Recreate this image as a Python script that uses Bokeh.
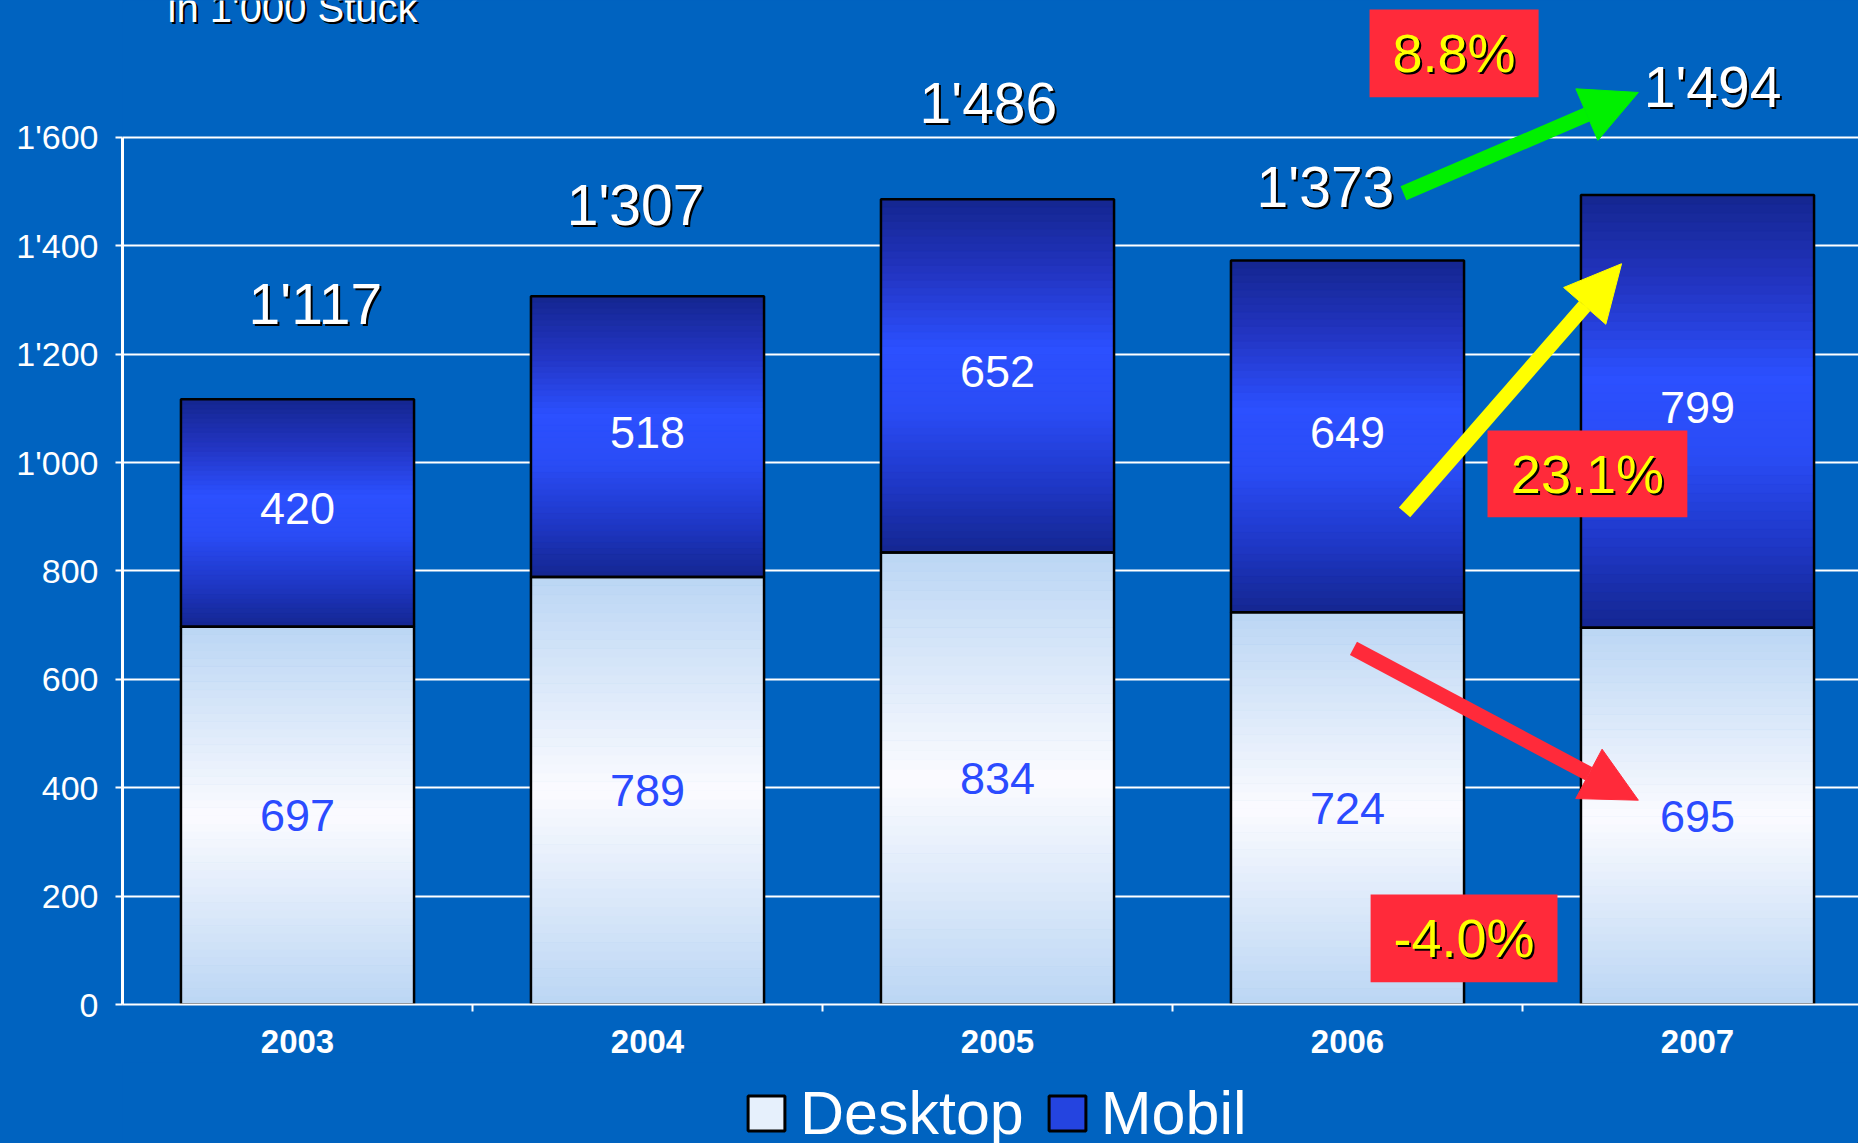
from bokeh.plotting import figure
from bokeh.layouts import column
from bokeh.models import Range1d, FixedTicker, ColumnDataSource, Arrow, NormalHead, Legend, LegendItem
from bokeh.core.properties import value
from bokeh.embed import file_html
from bokeh.resources import INLINE

# ---------------- data ----------------
years = ["2003", "2004", "2005", "2006", "2007"]
desktop = [697, 789, 834, 724, 695]
mobil = [420, 518, 652, 649, 799]
y_ticks = [0, 200, 400, 600, 800, 1000, 1200, 1400, 1600]
series_names = ["Desktop", "Mobil"]
unit_note = "in 1'000 Stuck"

# ---------------- layout / style ----------------
BG = "#0063C0"
FONT = value("Liberation Sans")
BAR_W = 0.666
total_label_dx = [0.051, -0.034, -0.026, -0.063, 0.043]
total_label_dy = [175, 169, 177, 135, 200]

totals = [d + m for d, m in zip(desktop, mobil)]
xc = [i + 0.5 for i in range(len(years))]


def fmt(v):
    return f"{v:,}".replace(",", "'")


def hex2rgb(h):
    return tuple(int(h[i:i + 2], 16) for i in (1, 3, 5))


def grad_color(stops, t):
    for (t0, c0), (t1, c1) in zip(stops[:-1], stops[1:]):
        if t0 <= t <= t1:
            f = (t - t0) / (t1 - t0) if t1 > t0 else 0.0
            a, b = hex2rgb(c0), hex2rgb(c1)
            return "#%02x%02x%02x" % tuple(round(a[k] + (b[k] - a[k]) * f) for k in range(3))
    return stops[-1][1]


def slices(bottoms, tops, stops, n=48):
    xs, bs, ts, cs = [], [], [], []
    for x, b, t in zip(xc, bottoms, tops):
        h = (t - b) / n
        for k in range(n):
            xs.append(x)
            bs.append(b + k * h)
            ts.append(b + (k + 1) * h)
            cs.append(grad_color(stops, 1 - (k + 0.5) / n))
    return ColumnDataSource(dict(x=xs, bottom=bs, top=ts, color=cs))


desk_stops = [(0.0, "#BBD6F4"), (0.5, "#FBFBFF"), (1.0, "#BBD6F4")]
mob_stops = [(0.0, "#142690"), (0.2, "#2234C0"), (0.42, "#2C50FF"), (0.6, "#2A4CF5"),
             (0.8, "#1F38C8"), (1.0, "#142690")]

p = figure(width=1858, height=1062, x_range=Range1d(0, 4.96), y_range=Range1d(0, 1852.7),
           output_backend="svg", toolbar_location=None,
           min_border_left=122, min_border_right=0, min_border_top=0, min_border_bottom=58)
p.background_fill_color = BG
p.border_fill_color = BG
p.outline_line_color = None

# grid
p.xgrid.visible = False
p.ygrid.ticker = FixedTicker(ticks=y_ticks)
p.ygrid.grid_line_color = "white"
p.ygrid.grid_line_width = 2

# y axis
p.yaxis.ticker = FixedTicker(ticks=y_ticks)
p.yaxis.major_label_overrides = {t: fmt(t) for t in y_ticks}
p.yaxis.bounds = (0, 1600)
p.yaxis.axis_line_color = "white"
p.yaxis.axis_line_width = 3
p.yaxis.major_tick_line_color = "white"
p.yaxis.major_tick_line_width = 2
p.yaxis.major_tick_out = 7
p.yaxis.major_tick_in = 0
p.yaxis.minor_tick_line_color = None
p.yaxis.major_label_text_color = "white"
p.yaxis.major_label_text_font = "Liberation Sans"
p.yaxis.major_label_text_font_size = "34px"
p.yaxis.major_label_standoff = 17

# x axis
p.xaxis.ticker = FixedTicker(ticks=xc, minor_ticks=[1, 2, 3, 4])
p.xaxis.major_label_overrides = {x: y for x, y in zip(xc, years)}
p.xaxis.axis_line_color = "white"
p.xaxis.axis_line_width = 2
p.xaxis.major_tick_line_color = None
p.xaxis.major_tick_out = 0
p.xaxis.major_tick_in = 0
p.xaxis.minor_tick_line_color = "white"
p.xaxis.minor_tick_line_width = 2
p.xaxis.minor_tick_out = 7
p.xaxis.minor_tick_in = 0
p.xaxis.major_label_text_color = "white"
p.xaxis.major_label_text_font = "Liberation Sans"
p.xaxis.major_label_text_font_style = "bold"
p.xaxis.major_label_text_font_size = "33px"
p.xaxis.major_label_standoff = 18

# gradient bars
sd = slices([0] * 5, desktop, desk_stops)
sm = slices(desktop, totals, mob_stops)
for src in (sd, sm):
    p.vbar(x="x", bottom="bottom", top="top", width=BAR_W, fill_color="color",
           line_color="color", line_width=1, source=src)
p.vbar(x=xc, bottom=0, top=desktop, width=BAR_W, fill_color=None, line_color="black", line_width=2.5)
p.vbar(x=xc, bottom=desktop, top=totals, width=BAR_W, fill_color=None, line_color="black", line_width=2.5)

# segment value labels
p.text(x=xc, y=[d / 2 for d in desktop], text=[str(v) for v in desktop], text_font=FONT,
       text_font_size="45px", text_color="#2B4BFF", text_align="center", text_baseline="middle")
p.text(x=xc, y=[d + m / 2 for d, m in zip(desktop, mobil)], text=[str(v) for v in mobil], text_font=FONT,
       text_font_size="45px", text_color="white", text_align="center", text_baseline="middle", y_offset=-4)

# totals with shadow
tx = [x + dx for x, dx in zip(xc, total_label_dx)]
ty = [t + dy for t, dy in zip(totals, total_label_dy)]
tt = [fmt(t) for t in totals]
p.text(x=tx, y=ty, text=tt, text_font=FONT, text_font_size="57px", text_color="black",
       text_align="center", text_baseline="middle", x_offset=2, y_offset=2)
p.text(x=tx, y=ty, text=tt, text_font=FONT, text_font_size="57px", text_color="white",
       text_align="center", text_baseline="middle")

# unit note (cut at top edge, as in the original)
p.text(x=[0.486], y=[1838], text=[unit_note], text_font=FONT, text_font_size="40px", text_color="black",
       text_align="center", text_baseline="middle", x_offset=2, y_offset=2)
p.text(x=[0.486], y=[1838], text=[unit_note], text_font=FONT, text_font_size="40px", text_color="white",
       text_align="center", text_baseline="middle")

# growth annotations (2006 -> 2007)
pct = lambda a, b: f"{(b / a - 1) * 100:.1f}%"
boxes = [
    ((3.563, 4.046, 1674, 1836), pct(totals[3], totals[4])),
    ((3.900, 4.471, 899, 1059), pct(mobil[3], mobil[4])),
    ((3.566, 4.100, 41, 203), pct(desktop[3], desktop[4])),
]
for (l, r, b, t), lab in boxes:
    p.quad(left=[l], right=[r], bottom=[b], top=[t], fill_color="#FF2A3A", line_color=None)
    cx, cy = (l + r) / 2, (b + t) / 2
    p.text(x=[cx], y=[cy], text=[lab], text_font=FONT, text_font_size="54px", text_color="black",
           text_align="center", text_baseline="middle", x_offset=2, y_offset=2)
    p.text(x=[cx], y=[cy], text=[lab], text_font=FONT, text_font_size="54px", text_color="#FFFF00",
           text_align="center", text_baseline="middle")

arrows = [
    ((3.660, 1497), (4.331, 1683), "#00F000"),
    ((3.663, 908), (4.283, 1367), "#FFFF00"),
    ((3.517, 657), (4.331, 377), "#FF2A3A"),
]
for (x0, y0), (x1, y1), c in arrows:
    p.add_layout(Arrow(end=NormalHead(size=56, fill_color=c, line_color=c),
                       x_start=x0, y_start=y0, x_end=x1, y_end=y1, line_color=c, line_width=15))

# legend strip below the chart
lg = figure(width=1858, height=81, x_range=Range1d(0, 1), y_range=Range1d(0, 1),
            output_backend="svg", toolbar_location=None, x_axis_location=None, y_axis_location=None,
            min_border_left=122, min_border_right=0, min_border_top=0, min_border_bottom=0)
lg.background_fill_color = BG
lg.border_fill_color = BG
lg.outline_line_color = None
lg.grid.visible = False
# legend-only renderers, kept outside the visible ranges (beyond the bottom-right corner)
r_d = lg.vbar(x=[5], bottom=[-6], top=[-5], width=0.1,
              fill_color="#E6F0FC", line_color="black", line_width=3)
r_m = lg.vbar(x=[5], bottom=[-6], top=[-5], width=0.1,
              fill_color="#2444E0", line_color="black", line_width=3)
legend = Legend(items=[LegendItem(label=series_names[0], renderers=[r_d]),
                       LegendItem(label=series_names[1], renderers=[r_m])],
                orientation="horizontal", location=(621, -5), padding=0, margin=0, spacing=20,
                label_standoff=11, glyph_width=46, glyph_height=44,
                label_text_font="Liberation Sans", label_text_font_size="61px", label_text_color="white",
                background_fill_alpha=0, border_line_color=None)
lg.add_layout(legend)

layout = column(p, lg, spacing=0)
html = file_html(layout, INLINE, template="{% block preamble %}<style>html,body{background:#0063C0;}</style>{% endblock %}")
open("out.html", "w").write(html)
